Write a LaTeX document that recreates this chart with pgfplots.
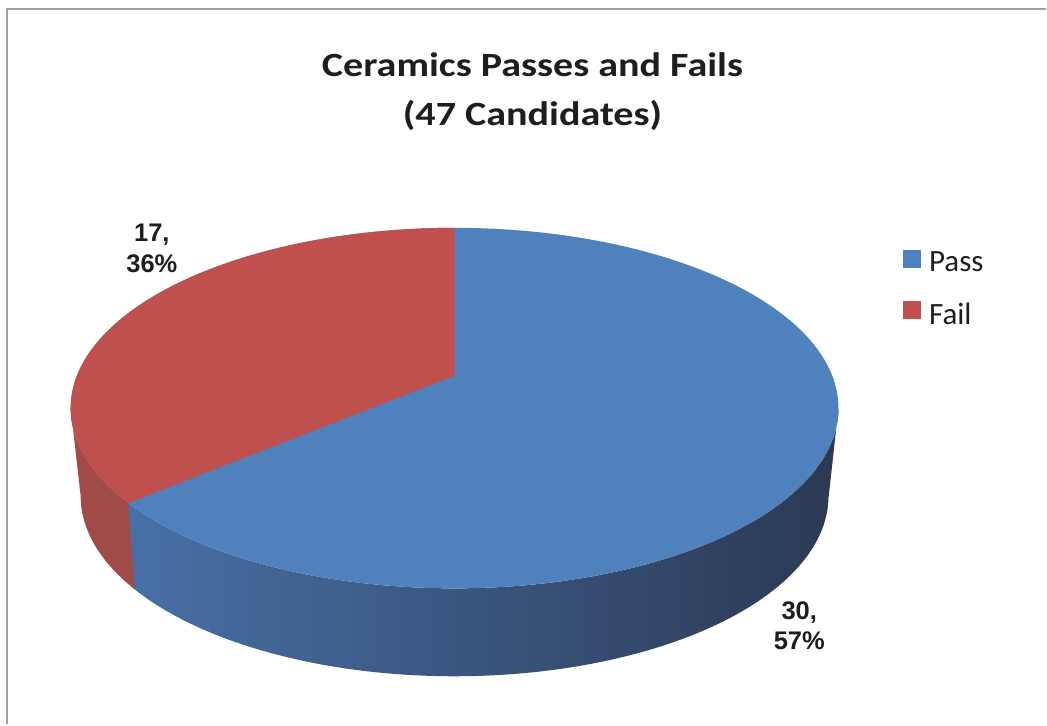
\documentclass[border=0pt]{standalone}
\usepackage{pgfplots}
\pgfplotsset{compat=1.18}
\usepackage{fontspec}
\setmainfont{Carlito}
\newfontfamily\arialfont{Liberation Sans}
\definecolor{pblue}{HTML}{4F81BD}
\definecolor{pred}{HTML}{C0504D}
\definecolor{redwall}{HTML}{A14B48}
\definecolor{bwallL}{HTML}{4870A6}
\definecolor{bwallR}{HTML}{2B3953}
\definecolor{txt}{HTML}{1E1E1E}
\definecolor{frame}{HTML}{A0A0A0}
\newcommand\titlefont{\fontsize{34bp}{40bp}\selectfont\bfseries}
\newcommand\labfont{\arialfont\fontsize{25.5bp}{30bp}\selectfont\bfseries}
\newcommand\legfont{\fontsize{31bp}{34bp}\selectfont}
% data
\def\npass{30}
\def\nfail{17}
\pgfmathsetmacro{\ntot}{\npass+\nfail}
\pgfmathsetmacro{\aend}{90+360*\nfail/\ntot}
\pgfmathsetmacro{\aendm}{\aend-1}
\begin{document}
\begin{tikzpicture}
\begin{axis}[name=ax, width=1047bp, height=725bp, scale only axis,
  xmin=0, xmax=1047, ymin=0, ymax=725, y dir=reverse, hide axis, clip=false,
  declare function={
    px(\t)=455+378*cos(\t)/(1+0.18*sin(\t));
    py(\t)=376-174.6*sin(\t)/(1+0.18*sin(\t));
    th(\s,\a,\b)=\a+(\b-\a)*(\s-2*(\s>1)*(\s-1));
    wx(\s,\a,\b)=455+(1-0.026*(\s>1))*378*cos(th(\s,\a,\b))/(1+0.18*sin(th(\s,\a,\b)));
    wy(\s,\a,\b)=py(th(\s,\a,\b))+88*(\s>1);
  },
  legend image code/.code={\fill[#1] (0bp,-5bp) rectangle (18bp,13bp);},
  legend style={at={(axis cs:904,250)}, anchor=north west, draw=none, fill=none,
    inner sep=0pt, outer sep=0pt, row sep=28bp, font=\legfont, text=txt,
    nodes={inner sep=0pt, outer sep=0pt},
    /tikz/every odd column/.append style={column sep=8bp}},
  legend cell align=left,
]
% side walls
\addplot[draw=none, left color=bwallL, right color=bwallR, forget plot,
  domain=0:2, samples=301] ({wx(x,\aendm,349.63)},{wy(x,\aendm,349.63)}) -- cycle;
\addplot[draw=none, fill=redwall, forget plot,
  domain=0:2, samples=101] ({wx(x,190.37,\aend)},{wy(x,190.37,\aend)}) -- cycle;
% top faces
\addplot[draw=none, fill=pblue, domain=0:360, samples=241] ({px(x)},{py(x)}) -- cycle;
\addlegendentry{Pass}
\addplot[draw=none, fill=pred, domain=90:\aend, samples=121] ({px(x)},{py(x)}) -- (axis cs:455,376) -- cycle;
\addlegendentry{Fail}
% frame
\draw[frame, line width=2bp] (axis cs:7,725) -- (axis cs:7,9.5) -- (axis cs:1047,9.5);
% title
\node[anchor=base, font=\titlefont, text=txt] at (axis cs:533,77) {\scalebox{1.18}[1]{Ceramics Passes and Fails}};
\node[anchor=base, font=\titlefont, text=txt] at (axis cs:533,125.5) {\scalebox{1.18}[1]{(47 Candidates)}};
% data labels
\node[anchor=base, font=\labfont, text=txt] at (axis cs:152,242) {17,};
\node[anchor=base, font=\labfont, text=txt] at (axis cs:152,273) {36\%};
\node[anchor=base, font=\labfont, text=txt] at (axis cs:800,620) {30,};
\node[anchor=base, font=\labfont, text=txt] at (axis cs:800,650) {57\%};
\end{axis}
\path (ax.south west) rectangle (ax.north east);
\end{tikzpicture}
\end{document}
